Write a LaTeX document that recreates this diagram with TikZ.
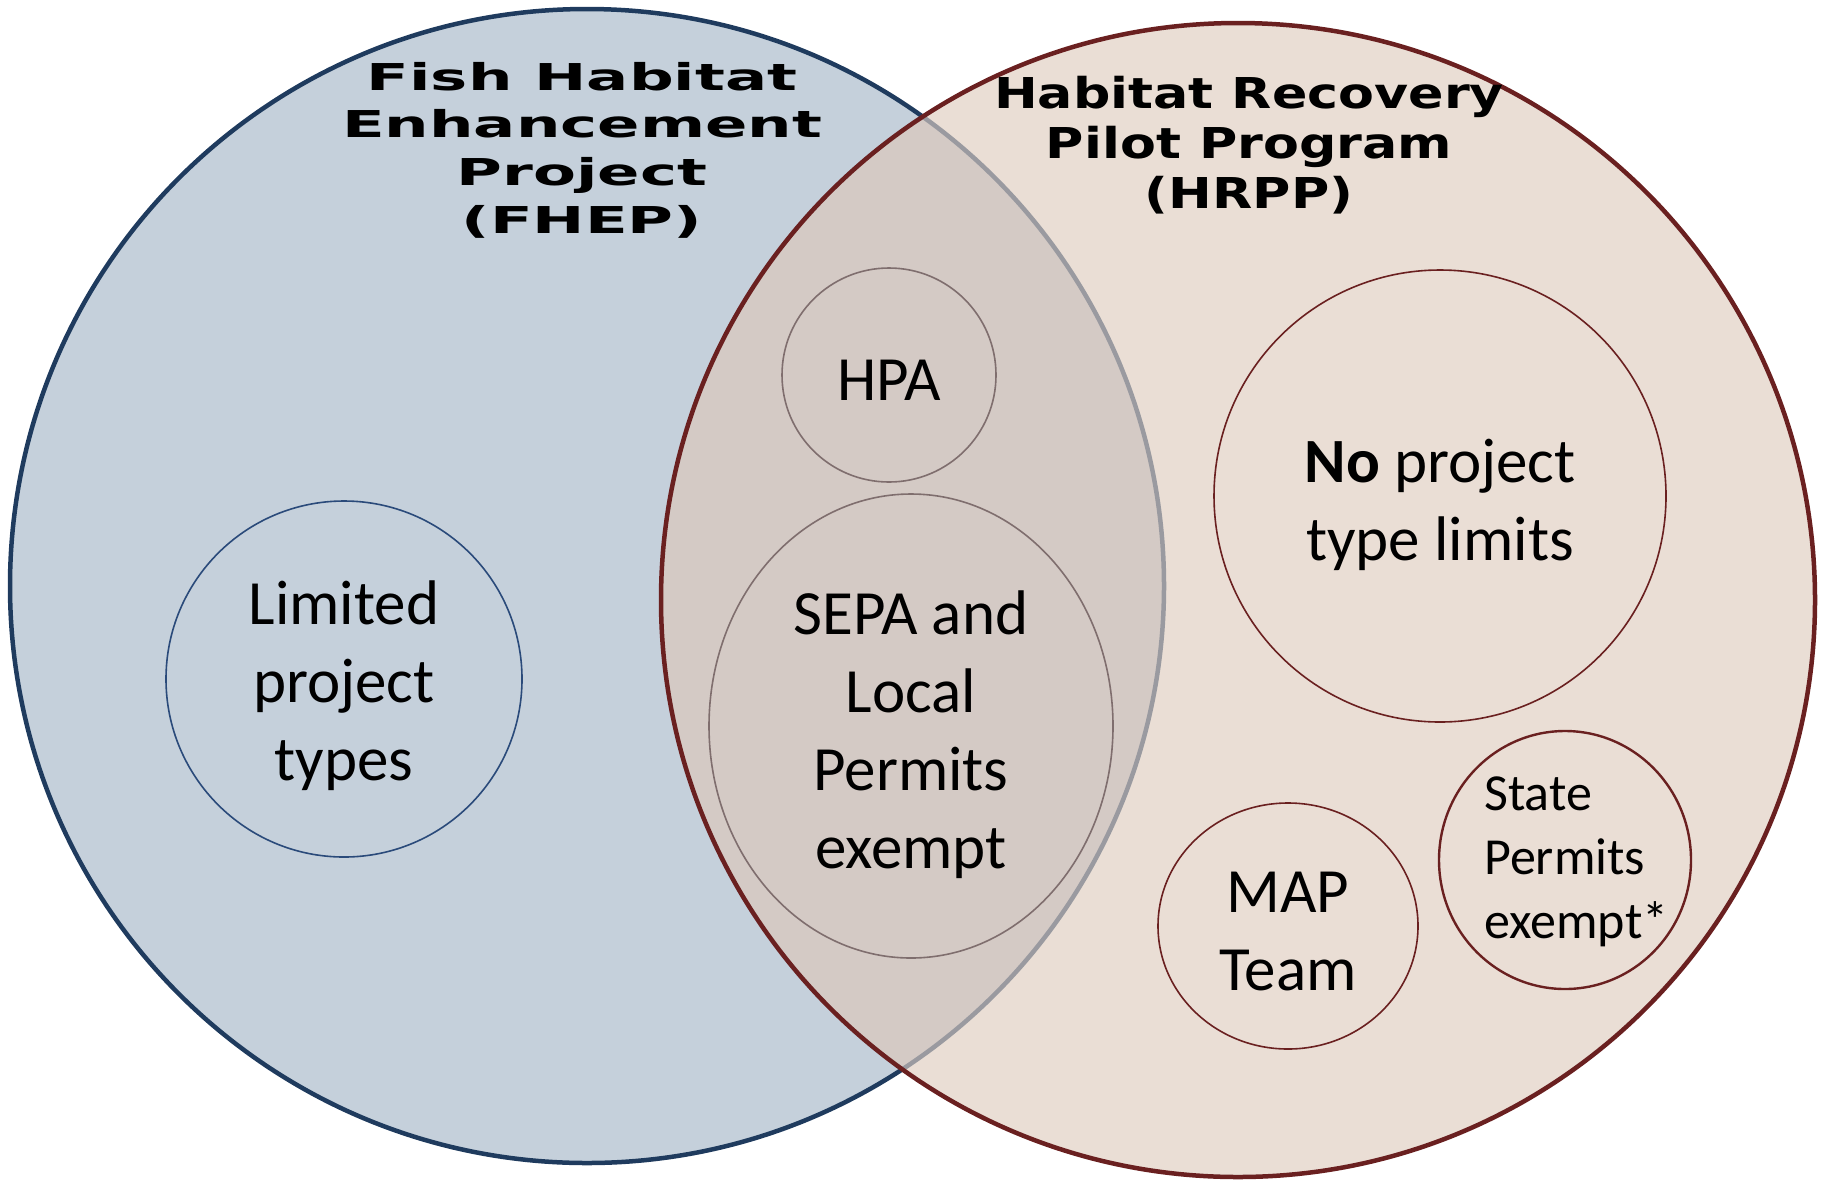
\documentclass[tikz,border=0pt]{standalone}
\usepackage{fontspec}
\setmainfont{Carlito}
\newfontfamily\titlefont{DejaVu Sans}
\usetikzlibrary{shapes.geometric}
\definecolor{fhepfill}{HTML}{C5D0DB}
\definecolor{fhepline}{HTML}{1F3B5E}
\definecolor{hrppfill}{HTML}{EADED5}
\definecolor{hrppline}{HTML}{6A2020}
\definecolor{bothfill}{HTML}{D4CAC5}
\definecolor{greyarc}{HTML}{9A9AA0}
\definecolor{midline}{HTML}{7F6E6E}
\definecolor{ltdline}{HTML}{2A4A7A}
\tikzset{
  body/.style={font=\fontsize{63}{78}\selectfont, align=center, text=black, inner sep=0pt},
  small/.style={font=\fontsize{52}{64}\selectfont, align=left, text=black, inner sep=0pt},
  titletext/.style 2 args={font=\titlefont\bfseries\fontsize{#1}{#2}\selectfont, align=center, text=black, inner sep=0pt, transform shape},
  ring/.style={draw=#1, line width=1.6pt, inner sep=0pt},
}
\begin{document}
\begin{tikzpicture}[x=1pt,y=-1pt]
\useasboundingbox (0,0) rectangle (1822,1179);
\coordinate (cl) at (587,586);
\coordinate (cr) at (1238,600);
% fills
\fill[fhepfill] (cl) circle (577);
\fill[hrppfill] (cr) circle (577);
\begin{scope}
  \clip (cl) circle (577);
  \fill[bothfill] (cr) circle (577);
\end{scope}
% left outline: blue outside right circle, grey inside
\begin{scope}[even odd rule]
  \clip (-10,-10) rectangle (1832,1189) (cr) circle (577);
  \draw[fhepline, line width=4.5pt] (cl) circle (577);
\end{scope}
\begin{scope}
  \clip (cr) circle (577);
  \draw[greyarc, line width=4.5pt] (cl) circle (577);
\end{scope}
\draw[hrppline, line width=4.5pt] (cr) circle (577);

% inner shapes
\node[ring=ltdline, circle, minimum size=356pt] (ltd) at (344,679) {};
\node[ring=midline, circle, minimum size=214pt] (hpa) at (889,375) {};
\node[ring=midline, ellipse, minimum width=404pt, minimum height=464pt] (sepa) at (911,726) {};
\node[ring=hrppline, circle, minimum size=452pt] (nolim) at (1440,496) {};
\node[ring=hrppline, ellipse, minimum width=260pt, minimum height=246pt] (map) at (1288,926) {};
\node[ring=hrppline, line width=2.4pt, ellipse, minimum width=252pt, minimum height=258pt] (state) at (1565,860) {};

% texts
\node[body] (ltdt) at (344,686) {Limited\\project\\types};
\node[body] (hpat) at (889,380) {HPA};
\node[body] (sepat) at (911,735) {SEPA and\\Local\\Permits\\exempt};
\node[body] (nolimt) at (1440,505) {\textbf{No} project\\type limits};
\node[body] (mapt) at (1288,932) {MAP\\Team};
\node[small, anchor=west] (statet) at (1484,862) {State\\Permits\\exempt*};

% titles
\begin{scope}[shift={(582,150)}, xscale=1.69]
  \node[titletext={37}{47.7}] (fhep) at (0,0) {Fish Habitat\\Enhancement\\Project\\(FHEP)};
\end{scope}
\begin{scope}[shift={(1249,145)}, xscale=1.23]
  \node[titletext={42.5}{50}] (hrpp) at (0,0) {Habitat Recovery\\Pilot Program\\(HRPP)};
\end{scope}
\end{tikzpicture}
\end{document}
